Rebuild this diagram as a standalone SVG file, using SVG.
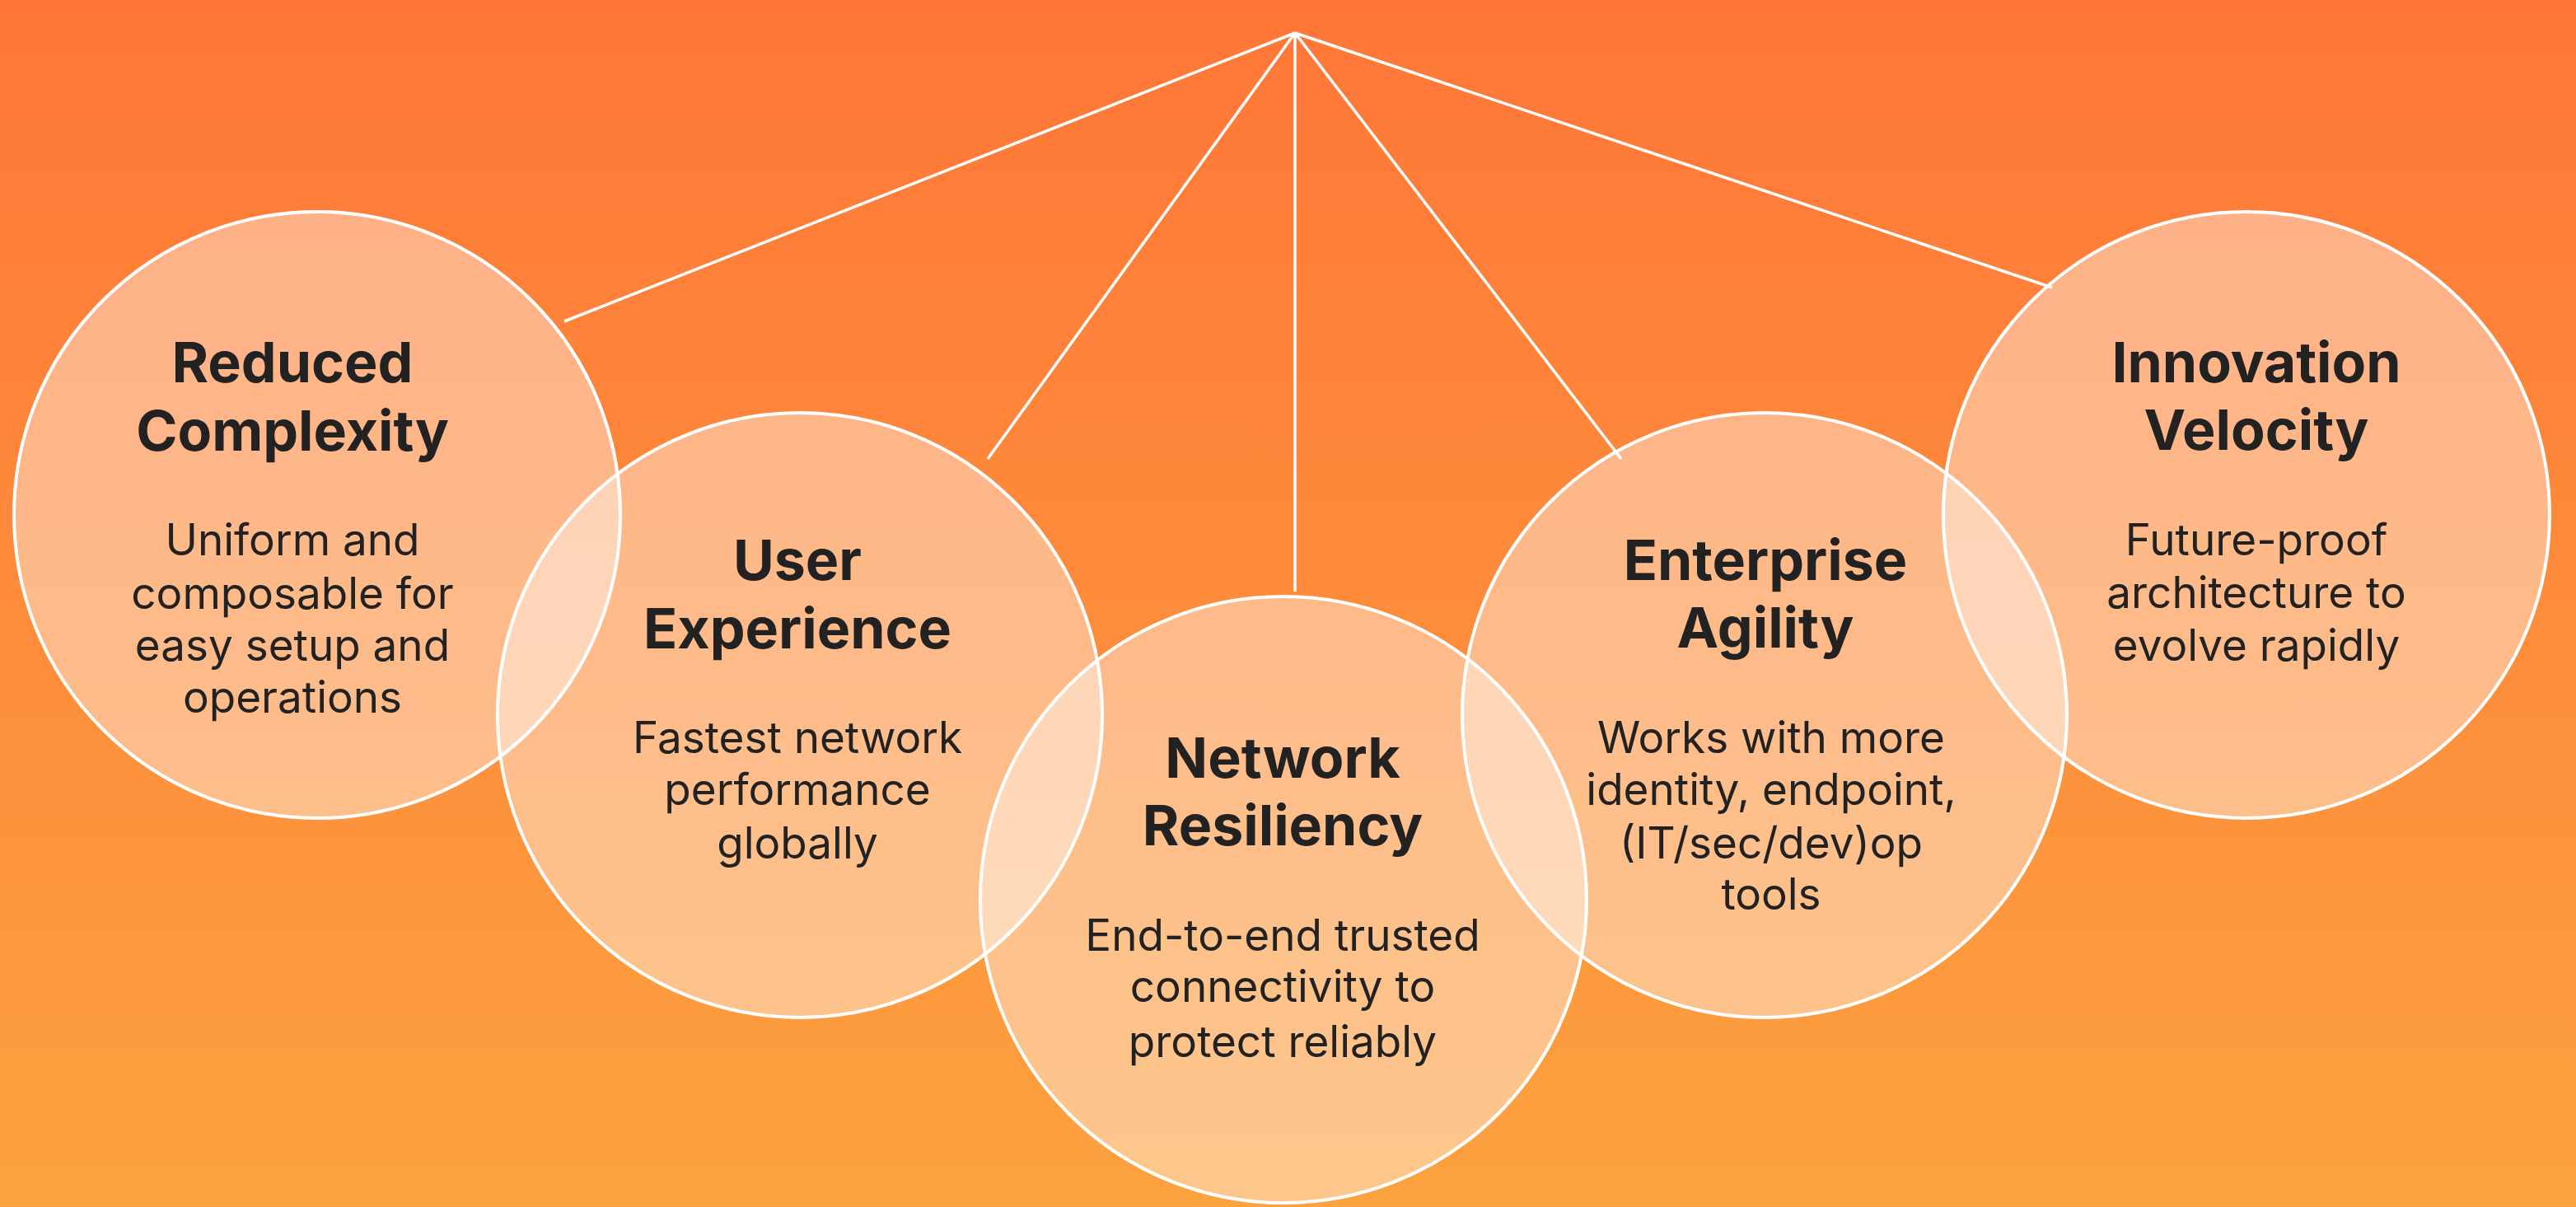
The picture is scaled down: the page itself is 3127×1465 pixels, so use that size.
<svg xmlns="http://www.w3.org/2000/svg" width="3127" height="1465" viewBox="0 0 3127 1465">
<defs>
<linearGradient id="bg" x1="0" y1="0" x2="0" y2="1">
<stop offset="0" stop-color="#FF7637"/>
<stop offset="1" stop-color="#FCA23F"/>
</linearGradient>
<style>
.c{fill:#FFFFFF;fill-opacity:0.4;stroke:#FFFFFF;stroke-width:4}
.l{stroke:#FFFFFF;stroke-width:3.5;fill:none;stroke-linecap:butt}
.t{font-family:Inter,"Liberation Sans",sans-serif;font-weight:700;font-size:68px;fill:#222222;text-anchor:middle}
.s{font-family:Inter,"Liberation Sans",sans-serif;font-weight:400;font-size:53px;fill:#222222;text-anchor:middle}
</style>
</defs>
<rect x="0" y="0" width="3127" height="1465" fill="url(#bg)"/>
<g id="connectors">
<line class="l" x1="1572" y1="40" x2="685" y2="390"/>
<line class="l" x1="1572" y1="40" x2="1199" y2="557"/>
<line class="l" x1="1572" y1="40" x2="1572" y2="718"/>
<line class="l" x1="1572" y1="40" x2="1968" y2="557"/>
<line class="l" x1="1572" y1="40" x2="2491" y2="349"/>
</g>
<g id="reduced-complexity">
<circle class="c" cx="385" cy="625" r="368"/>
<text class="t" x="355" y="464">Reduced</text>
<text class="t" x="355" y="547">Complexity</text>
<text class="s" x="355" y="674">Uniform and</text>
<text class="s" x="355" y="739">composable for</text>
<text class="s" x="355" y="802">easy setup and</text>
<text class="s" x="355" y="865">operations</text>
</g>
<g id="user-experience">
<circle class="c" cx="971" cy="868" r="367"/>
<text class="t" x="968" y="704">User</text>
<text class="t" x="968" y="787">Experience</text>
<text class="s" x="968" y="914">Fastest network</text>
<text class="s" x="968" y="977">performance</text>
<text class="s" x="968" y="1042">globally</text>
</g>
<g id="network-resiliency">
<circle class="c" cx="1558" cy="1092" r="368"/>
<text class="t" x="1557" y="944">Network</text>
<text class="t" x="1557" y="1026">Resiliency</text>
<text class="s" x="1557" y="1154">End-to-end trusted</text>
<text class="s" x="1557" y="1216">connectivity to</text>
<text class="s" x="1557" y="1283">protect reliably</text>
</g>
<g id="enterprise-agility">
<circle class="c" cx="2142" cy="868" r="367"/>
<text class="t" x="2143" y="704">Enterprise</text>
<text class="t" x="2143" y="786">Agility</text>
<text class="s" x="2150" y="914">Works with more</text>
<text class="s" x="2150" y="977">identity, endpoint,</text>
<text class="s" x="2150" y="1042">(IT/sec/dev)op</text>
<text class="s" x="2150" y="1104">tools</text>
</g>
<g id="innovation-velocity">
<circle class="c" cx="2727" cy="625" r="368"/>
<text class="t" x="2739" y="464">Innovation</text>
<text class="t" x="2739" y="546">Velocity</text>
<text class="s" x="2739" y="674">Future-proof</text>
<text class="s" x="2739" y="738">architecture to</text>
<text class="s" x="2739" y="802">evolve rapidly</text>
</g>
</svg>
